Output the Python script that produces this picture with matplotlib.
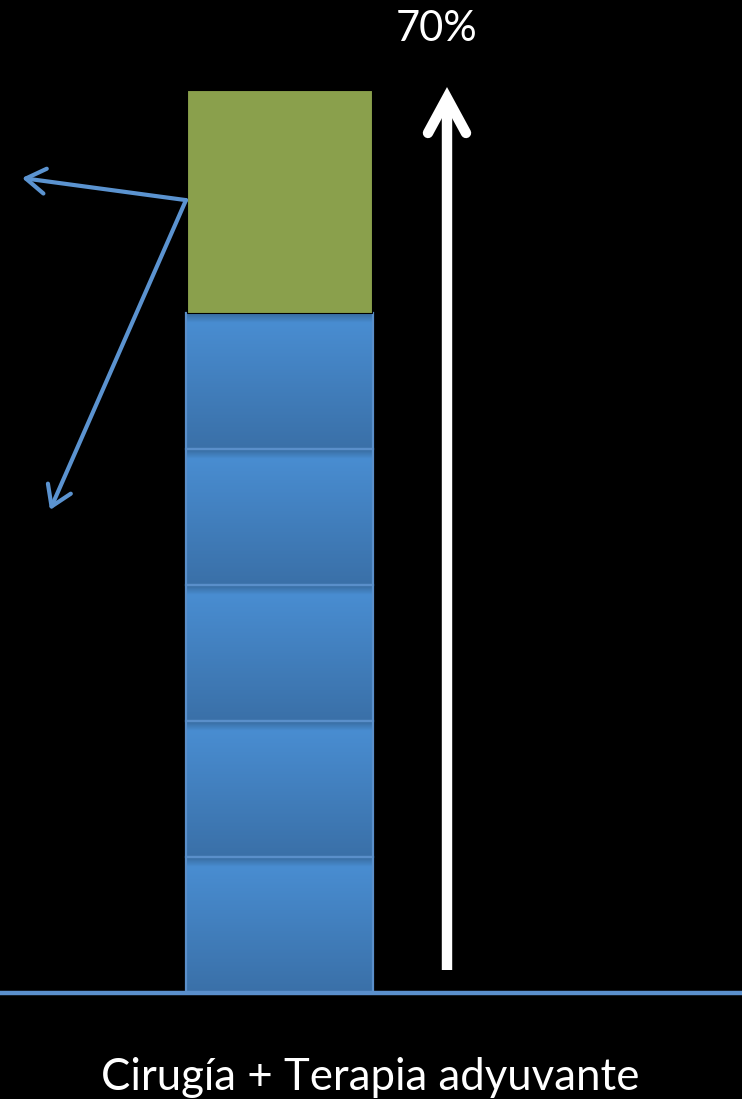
import numpy as np
import matplotlib
matplotlib.use("Agg")
import matplotlib.pyplot as plt
from matplotlib.colors import LinearSegmentedColormap

# ---- data ----
categories = ["Cirugía + Terapia adyuvante"]
blue_segments = [10, 10, 10, 10, 10]
green_segment = [16.4]
total_label = "70%"

W, H = 742, 1099
DPI = 100
fig = plt.figure(figsize=(W / DPI, H / DPI), dpi=DPI, facecolor="black")

base_px = 993
ax = fig.add_axes([0, (H - base_px) / H, 1, base_px / H])
ax.set_facecolor("black")
px_per_unit = 13.6
bar_w_px = 187
center_px = 279.5
ax.set_ylim(0, base_px / px_per_unit)
ax.set_xlim(-center_px / bar_w_px, (W - center_px) / bar_w_px)
ax.axis("off")

x0 = 0
bw = 1.0
# blue gradient segments
cmap = LinearSegmentedColormap.from_list("bl", ["#3a70a8", "#4a8fd4"])
bottom = 0
for v in blue_segments:
    n = 200
    t = np.linspace(0, 1, n)
    rgba = cmap(t)
    shadow = np.clip((t - 0.93) / 0.07, 0, 1)  # near top
    rgba[:, :3] *= (1 - 0.25 * shadow)[:, None]
    img = rgba[:, None, :]
    ax.imshow(img, extent=(x0 - bw / 2, x0 + bw / 2, bottom, bottom + v),
              origin="lower", aspect="auto", zorder=2, interpolation="bilinear")
    ax.bar(x0, v, bottom=bottom, width=bw, facecolor="none",
           edgecolor="#5a8fca", linewidth=1.6, zorder=3)
    bottom += v

blue_total = bottom
ax.bar(x0, green_segment[0], bottom=blue_total, width=bw * 185 / 187,
       color="#8aa04c", edgecolor="black", linewidth=0.8, zorder=3)
top = blue_total + green_segment[0]

# baseline
ax.axhline(0, color="#5a8fcc", linewidth=3.2, zorder=4, clip_on=False)

# white arrow
ax_x = (447 - center_px) / bar_w_px
shaft_bottom = (base_px - 970) / px_per_unit
tip = top - 8 / px_per_unit
hw = 19 / bar_w_px
hl = 35 / px_per_unit
ax.plot([ax_x, ax_x], [shaft_bottom, tip - 0.3], color="white", lw=7.5,
        solid_capstyle="butt", zorder=5)
ax.plot([ax_x - hw, ax_x, ax_x + hw], [tip - hl, tip, tip - hl], color="white",
        lw=7.5, solid_capstyle="round", solid_joinstyle="miter", zorder=5)

# blue annotation arrows
origin = (x0 - bw / 2, blue_total + 8.3)
targets = [((22 - center_px) / bar_w_px, (base_px - 178) / px_per_unit),
           ((50 - center_px) / bar_w_px, (base_px - 510) / px_per_unit)]
for tx, ty in targets:
    ax.annotate("", xy=(tx, ty), xytext=origin,
                arrowprops=dict(arrowstyle="->,head_length=0.7,head_width=0.45",
                                color="#5b93d0", lw=3.0, mutation_scale=20,
                                shrinkA=0, shrinkB=0, capstyle="round"),
                zorder=6)

fig.text(437 / W, 1 - 29 / H, total_label, color="white", fontsize=30,
         family="Lato", ha="center", va="center")
fig.text(370 / W, 1 - 1078 / H, categories[0], color="white", fontsize=31.5,
         family="Lato", ha="center", va="center")

fig.savefig("out.png", dpi=DPI, facecolor="black")
